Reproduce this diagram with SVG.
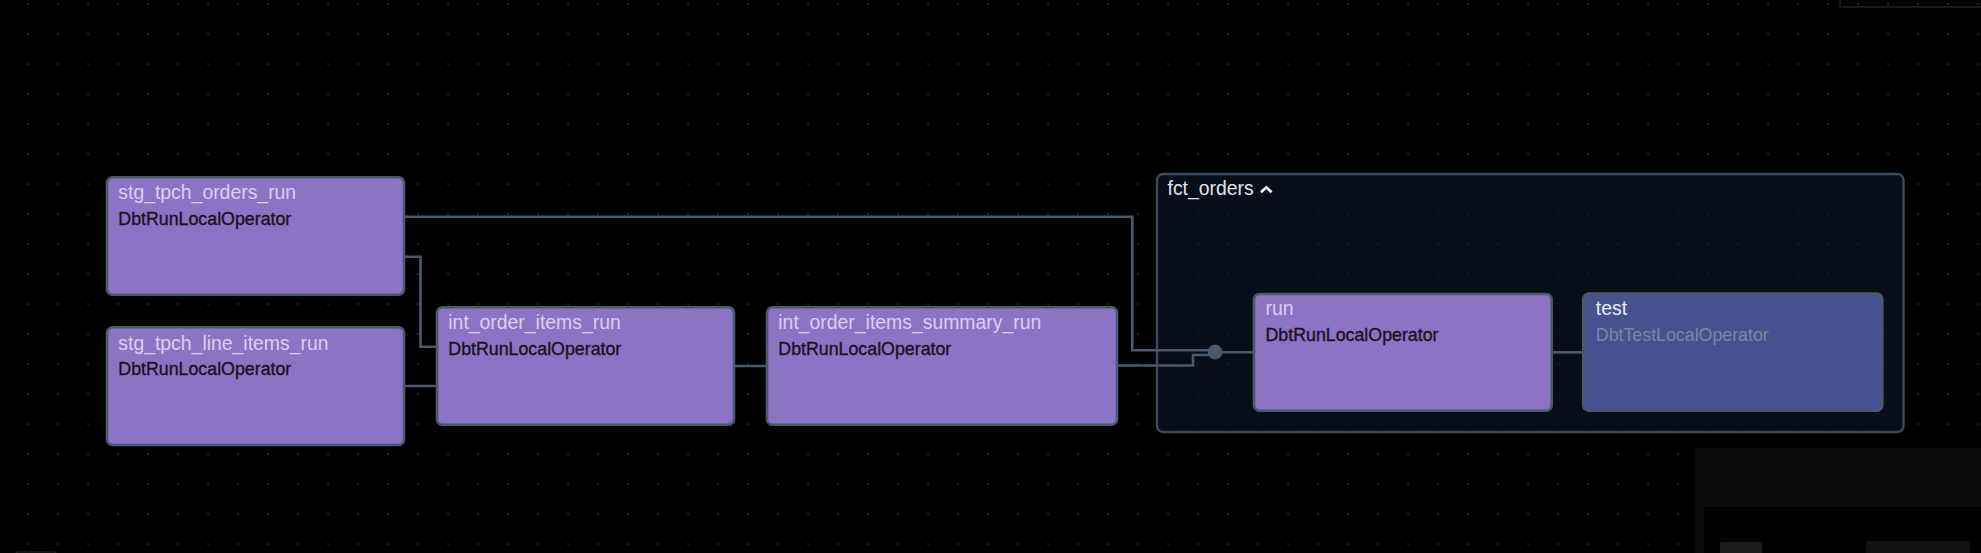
<svg xmlns="http://www.w3.org/2000/svg" width="1981" height="553" viewBox="0 0 1981 553">
  <defs>
    <pattern id="dots" patternUnits="userSpaceOnUse" x="0" y="0" width="30" height="30">
      <rect x="27.4" y="3.4" width="1.3" height="1.3" fill="#4a4a4a"/>
    </pattern>
  </defs>
  <style>
    .node { stroke: #4b5a6b; stroke-width: 2.6; }
    .run { fill: #8b74c4; }
    .tst { fill: #46528f; }
    .title { font-family: "Liberation Sans", Arial, sans-serif; font-size: 19.4px; fill: #d9d0f1; }
    .op { font-family: "Liberation Sans", Arial, sans-serif; font-size: 17.8px; fill: #18131f; stroke: #18131f; stroke-width: 0.35; }
    .ttitle { font-family: "Liberation Sans", Arial, sans-serif; font-size: 19.4px; fill: #e8eaf3; }
    .top { font-family: "Liberation Sans", Arial, sans-serif; font-size: 17.8px; fill: #7c86a3; }
    .edge { fill: none; stroke: #4b5a6b; stroke-width: 2.6; }
  </style>
  <rect x="0" y="0" width="1981" height="553" fill="#000"/>
  <rect x="0" y="0" width="1981" height="553" fill="url(#dots)"/>

  <g id="fct_orders">
    <rect x="1157" y="174" width="746.5" height="258" rx="6" fill="#0c1726" fill-opacity="0.6" stroke="#3d4a5a" stroke-width="2.4"/>
    <text x="1167.5" y="194.5" class="ttitle" style="fill:#e2e4ea">fct_orders</text>
    <polyline points="1261,192.3 1266.3,187.3 1271.6,192.3" fill="none" stroke="#f0f0f0" stroke-width="2.8"/>
  </g>

  <g id="connectors">
    <path class="edge" d="M404,216.7 H1132.3 V350.3 H1215"/>
    <path class="edge" d="M404,256.7 H420.5 V346.7 H437"/>
    <path class="edge" d="M404,386 H437"/>
    <path class="edge" d="M734,366 H767"/>
    <path class="edge" d="M1117,365.5 H1193 V355 H1215"/>
    <path class="edge" d="M1215,352.3 H1254"/>
    <path class="edge" d="M1552,352.3 H1583"/>
    <circle cx="1215" cy="352" r="7.4" fill="#4b5a6b"/>
  </g>

  <g id="stg_tpch_orders_run">
    <rect class="node run" x="107" y="177.3" width="297" height="117.4" rx="5.5"/>
    <text x="118.3" y="199.3" class="title">stg_tpch_orders_run</text>
    <text x="118.3" y="225" class="op">DbtRunLocalOperator</text>
  </g>

  <g id="stg_tpch_line_items_run">
    <rect class="node run" x="107" y="327.3" width="297" height="117.7" rx="5.5"/>
    <text x="118.3" y="349.5" class="title">stg_tpch_line_items_run</text>
    <text x="118.3" y="375" class="op">DbtRunLocalOperator</text>
  </g>

  <g id="int_order_items_run">
    <rect class="node run" x="437" y="307.3" width="297" height="117.4" rx="5.5"/>
    <text x="448.3" y="329.3" class="title">int_order_items_run</text>
    <text x="448.3" y="355" class="op">DbtRunLocalOperator</text>
  </g>

  <g id="int_order_items_summary_run">
    <rect class="node run" x="767" y="307.3" width="350" height="117.4" rx="5.5"/>
    <text x="778.3" y="329.3" class="title">int_order_items_summary_run</text>
    <text x="778.3" y="355" class="op">DbtRunLocalOperator</text>
  </g>

  <g id="run">
    <rect class="node run" x="1254" y="294" width="297.7" height="116.7" rx="5.5"/>
    <text x="1265.5" y="314.7" class="title">run</text>
    <text x="1265.5" y="341" class="op">DbtRunLocalOperator</text>
  </g>

  <g id="test">
    <rect class="node tst" x="1583.3" y="293.5" width="299" height="117.2" rx="5.5"/>
    <text x="1595.8" y="314.7" class="ttitle">test</text>
    <text x="1595.8" y="341" class="top">DbtTestLocalOperator</text>
  </g>

  <g id="chrome">
    <rect x="1840" y="-10" width="160" height="17" fill="none" stroke="#1c222c" stroke-width="1.5"/>
    <rect x="1695" y="448" width="290" height="110" fill="#0b0b0b"/>
    <rect x="1704" y="507" width="280" height="50" fill="#000"/>
    <rect x="1720" y="542" width="42" height="20" rx="2" fill="#1c1c1c"/>
    <rect x="1866" y="541" width="104" height="20" rx="2" fill="#121212"/>
    <rect x="15" y="552" width="42" height="8" rx="3" fill="none" stroke="#222" stroke-width="1"/>
  </g>
</svg>
